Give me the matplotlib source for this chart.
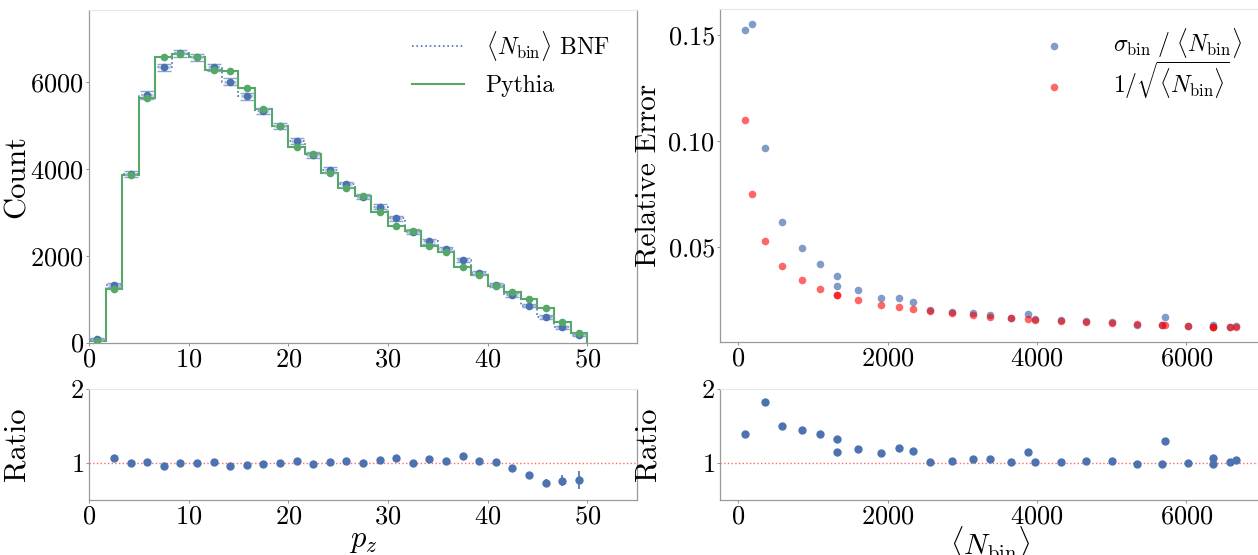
import numpy as np
import matplotlib
matplotlib.use("Agg")
import matplotlib.pyplot as plt

plt.rcParams['font.family'] = 'cmr10'
plt.rcParams['mathtext.fontset'] = 'cm'
plt.rcParams['axes.unicode_minus'] = False
plt.rcParams['axes.formatter.use_mathtext'] = True

# 30 bins in p_z between 0 and 50
bin_edges = np.linspace(0, 50, 31)
bin_centers = 0.5 * (bin_edges[1:] + bin_edges[:-1])
bin_width = bin_edges[1] - bin_edges[0]

# mean bin counts from the BNF ensemble
bnf_counts = np.array([83, 1320, 3880, 5710, 6350, 6670, 6580, 6350, 6015, 5680,
                       5340, 5000, 4655, 4320, 3978, 3650, 3367, 3137, 2862, 2560,
                       2332, 2157, 1907, 1600, 1320, 1090, 852, 590, 355, 178])

# Pythia reference histogram
pythia_counts = np.array([40, 1240, 3870, 5650, 6575, 6655, 6575, 6295, 6260, 5865,
                          5395, 4985, 4515, 4355, 3900, 3575, 3370, 3008, 2680, 2575,
                          2226, 2095, 1749, 1557, 1311, 1172, 1011, 803, 466, 230])

# sigma_bin / <N_bin> for each bin
rel_err = np.array([0.1525, 0.0363, 0.01846, 0.01715, 0.01338, 0.01273, 0.01245, 0.01237,
                    0.01289, 0.01308, 0.01349, 0.01447, 0.01514, 0.01552, 0.01608, 0.01678,
                    0.01809, 0.01875, 0.01922, 0.02016, 0.0242, 0.0259, 0.0260, 0.0298,
                    0.0315, 0.0422, 0.0494, 0.0620, 0.0967, 0.1550])

sigma = rel_err * bnf_counts
poisson = 1 / np.sqrt(bnf_counts)

blue = '#4c72b0'
green = '#55a868'

W, H = 1258, 555


def rect(x0, y0, x1, y1):
    return [x0 / W, 1 - y1 / H, (x1 - x0) / W, (y1 - y0) / H]


fig = plt.figure(figsize=(W / 100, H / 100), dpi=100)
ax1 = fig.add_axes(rect(89, 10, 637, 342.5))
ax2 = fig.add_axes(rect(89, 389, 637, 500))
ax3 = fig.add_axes(rect(720, 9.3, 1261, 342.3))
ax4 = fig.add_axes(rect(720, 389, 1261, 500), sharex=ax3)

for ax in [ax1, ax2, ax3, ax4]:
    for side in ['left', 'bottom', 'right']:
        ax.spines[side].set_color('0.6')
        ax.spines[side].set_linewidth(0.9)
    ax.spines['top'].set_color('0.9')
    ax.tick_params(labelsize=19, length=2.5, width=0.6, color='0.5', pad=1)

# histogram comparison
ax1.stairs(bnf_counts, bin_edges, color=blue, linestyle=':', linewidth=1.2,
           label=r'$\langle N_{\rm bin}\rangle$ BNF')
ax1.errorbar(bin_centers, bnf_counts, xerr=0.35 * bin_width,
             fmt='none', ecolor='#b4c3de', elinewidth=2.5, alpha=0.8)
ax1.errorbar(bin_centers, bnf_counts, yerr=sigma, fmt='none', ecolor='#8da5d0',
             elinewidth=1.2, capsize=5, capthick=1.0)
ax1.plot(bin_centers, bnf_counts, 'o', color=blue, ms=4.5)
ax1.stairs(pythia_counts, bin_edges, color=green, linewidth=1.5, label='Pythia')
ax1.plot(bin_centers, pythia_counts, 'o', color=green, ms=4.5)
ax1.set_xlim(0, 55)
ax1.set_ylim(0, 1.15 * bnf_counts.max())
ax1.set_yticks([0, 2000, 4000, 6000])
ax1.set_ylabel('Count', fontsize=22)
ax1.yaxis.set_label_coords(-0.107, 0.5)
ax1.legend(loc='upper right', frameon=False, fontsize=17, handlelength=2.2,
           handletextpad=0.9, borderaxespad=0.4, labelspacing=0.5,
           bbox_to_anchor=(0.985, 1.0))

# BNF / Pythia ratio
ratio = bnf_counts / pythia_counts
ratio_err = sigma / pythia_counts
ax2.axhline(1, color='red', linestyle=':', linewidth=1, alpha=0.6)
ax2.errorbar(bin_centers[1:], ratio[1:], yerr=ratio_err[1:], fmt='o', color=blue,
             ms=5, elinewidth=1.2)
ax2.set_xlim(0, 55)
ax2.set_ylim(0.5, 2)
ax2.set_yticks([1, 2])
ax2.set_ylabel('Ratio', fontsize=22)
ax2.yaxis.set_label_coords(-0.107, 0.5)
ax2.set_xlabel(r'$p_z$', fontsize=22)
ax2.xaxis.set_label_coords(0.5, -0.25)

# relative error against mean bin count
ax3.scatter(bnf_counts, rel_err, s=30, color=blue, alpha=0.7, linewidths=0,
            label=r'$\sigma_{\rm bin}\ /\ \langle N_{\rm bin}\rangle$')
ax3.scatter(bnf_counts, poisson, s=30, color='red', alpha=0.6, linewidths=0,
            label=r'$1/\sqrt{\langle N_{\rm bin}\rangle}$')
ax3.set_xticks([0, 2000, 4000, 6000])
ax3.set_yticks([0.05, 0.10, 0.15])
ax3.set_ylabel('Relative Error', fontsize=21)
ax3.yaxis.set_label_coords(-0.108, 0.5)
ax3.legend(loc='upper right', frameon=False, fontsize=17, handletextpad=1.5,
           borderaxespad=0.3, labelspacing=0.0, bbox_to_anchor=(0.995, 1.0))

# relative error over Poisson expectation
ax4.axhline(1, color='red', linestyle=':', linewidth=1, alpha=0.6)
ax4.plot(bnf_counts, rel_err / poisson, 'o', color=blue, ms=5)
ax4.set_ylim(0.5, 2)
ax4.set_yticks([1, 2])
ax4.set_ylabel('Ratio', fontsize=22)
ax4.yaxis.set_label_coords(-0.108, 0.5)
ax4.set_xlabel(r'$\langle N_{\rm bin}\rangle$', fontsize=21)
ax4.xaxis.set_label_coords(0.5, -0.215)
ax3.tick_params(labelbottom=True)

fig.savefig('out.png', dpi=100)
